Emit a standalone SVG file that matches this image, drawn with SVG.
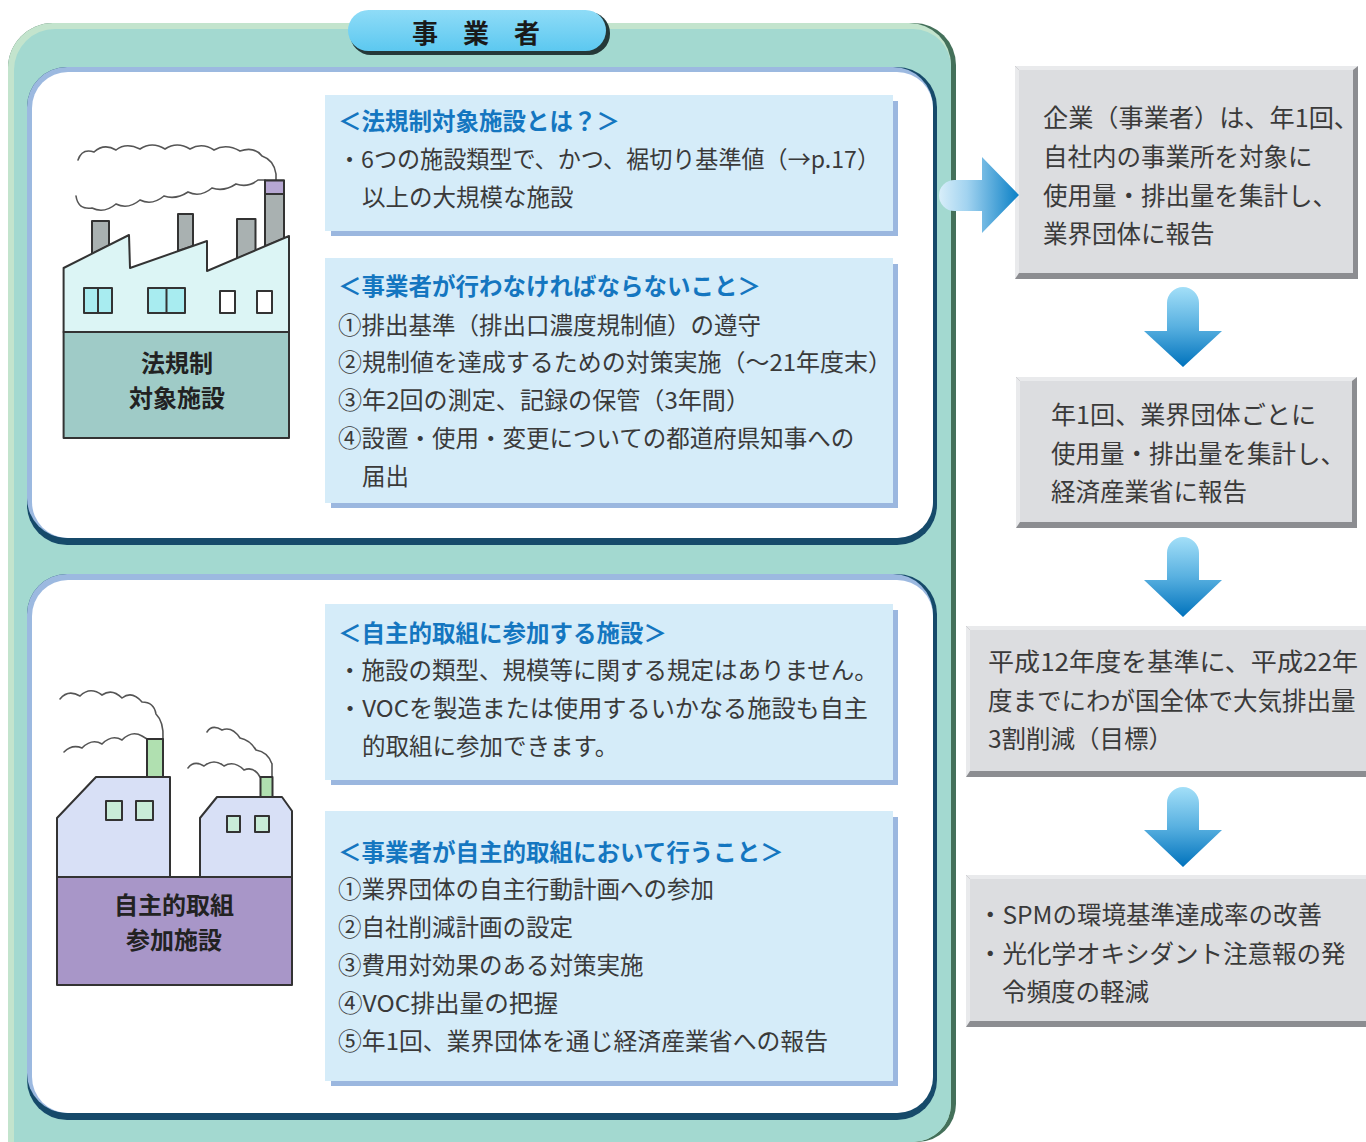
<svg xmlns="http://www.w3.org/2000/svg" width="1366" height="1142" viewBox="0 0 1366 1142">
<defs>
<linearGradient id="pillG" x1="0" y1="0" x2="0" y2="1"><stop offset="0" stop-color="#8fdcf7"/><stop offset="1" stop-color="#5cc8f0"/></linearGradient>
<linearGradient id="rArrow" x1="0" y1="0" x2="1" y2="0"><stop offset="0" stop-color="#d8eef9"/><stop offset="0.35" stop-color="#a2d3f0"/><stop offset="1" stop-color="#0a80c6"/></linearGradient>
<linearGradient id="dArrow" x1="0" y1="0" x2="0" y2="1"><stop offset="0" stop-color="#a3dff8"/><stop offset="0.5" stop-color="#58b0e0"/><stop offset="1" stop-color="#0072bc"/></linearGradient>
<style>
.t{font-family:"Noto Sans CJK JP","Noto Sans CJK SC",sans-serif;font-size:23.5px;fill:#3a3a3a}
.h{font-family:"Noto Sans CJK JP","Noto Sans CJK SC",sans-serif;font-size:23.5px;fill:#1476c0;font-weight:bold}
.r{font-family:"Noto Sans CJK JP","Noto Sans CJK SC",sans-serif;font-size:24.5px;fill:#3a3a3a}
.lab{font-family:"Noto Sans CJK JP","Noto Sans CJK SC",sans-serif;font-size:24px;fill:#222;font-weight:bold;text-anchor:middle}
.ttl{font-family:"Noto Sans CJK JP","Noto Sans CJK SC",sans-serif;font-size:26px;fill:#1a1a1a;font-weight:bold;text-anchor:middle}
.bx{fill:#d5ecf9}
.sh{fill:#9bb7df}
.dk{fill:#8c8d91}
.lt{fill:#e9eaec}
.gf{fill:#dcdde0}
.ol{stroke:#333;stroke-width:2;stroke-linejoin:round}
.smk{fill:none;stroke:#555;stroke-width:1.6;stroke-linecap:round}
.arr{fill:url(#dArrow)}
</style>
</defs>

<g id="container">
<path d="M8,1142 V68 A45,45 0 0 1 53,23 H914 A42,42 0 0 1 956,65 V1104 A38,38 0 0 1 918,1142 Z" fill="#44705a"/>
<path d="M8,1142 V68 A45,45 0 0 1 53,23 H909 A42,42 0 0 1 951,65 V1104 A38,38 0 0 1 913,1142 Z" fill="#c3e4cd"/>
<path d="M14,1142 V70 A41,41 0 0 1 55,29 H913 A38,38 0 0 1 951,67 V1104 A38,38 0 0 1 913,1142 Z" fill="#a3d9d0"/>
</g>

<g id="title">
<rect x="350" y="12" width="260" height="43" rx="21" fill="#243838"/>
<rect x="348" y="10" width="258" height="41" rx="20.5" fill="url(#pillG)"/>
<text class="ttl" x="425 476 527" y="43">事業者</text>
</g>

<g id="panel1">
<rect x="27" y="67" width="910" height="478" rx="40" fill="#164a6a"/>
<rect x="27" y="67" width="906" height="471" rx="40" fill="#9cb9e0"/>
<rect x="32" y="72" width="901" height="466" rx="36" fill="#fff"/>
</g>
<g id="panel2">
<rect x="27" y="574" width="910" height="546" rx="40" fill="#164a6a"/>
<rect x="27" y="574" width="906" height="539" rx="40" fill="#9cb9e0"/>
<rect x="32" y="580" width="901" height="533" rx="36" fill="#fff"/>
</g>

<g id="factory1">
<path class="smk" d="M78,160 Q82,148 94,152 Q104,143 116,150 Q126,142 140,149 Q152,141 165,149 Q177,141 190,149 Q202,142 214,150 Q226,143 240,151 Q254,146 262,156 Q274,160 276,174 L276,181"/>
<path class="smk" d="M76,196 Q78,210 92,208 Q104,214 116,204 Q128,210 140,200 Q152,206 164,196 Q176,200 188,192 Q200,198 212,188 Q224,192 236,184 Q248,188 258,180 L265,180"/>
<polygon class="ol" points="92,221 109,221 109,245.5 92,254" fill="#a9b1b1"/>
<polygon class="ol" points="178,214 193,214 193,246 178,251" fill="#a9b1b1"/>
<polygon class="ol" points="237,219 255.5,219 255.5,251 237,258.6" fill="#a9b1b1"/>
<polygon class="ol" points="265,180.5 284,180.5 284,238.3 265,246.3" fill="#a9b1b1"/>
<rect x="265" y="180.5" width="19" height="13.5" fill="#b6a7d2" class="ol"/>
<polygon class="ol" points="63.6,332 63.6,268 129,235 130,268 207,241 207,271 289,236 289,332" fill="#dcf5f5"/>
<rect class="ol" x="63.6" y="332" width="225.4" height="106" fill="#9fcbc7"/>
<rect class="ol" x="84" y="288" width="28" height="25" fill="#a8ecf0"/>
<line class="ol" x1="98" y1="288" x2="98" y2="313"/>
<rect class="ol" x="148" y="288" width="37" height="25" fill="#a8ecf0"/>
<line class="ol" x1="166.5" y1="288" x2="166.5" y2="313"/>
<rect class="ol" x="220" y="291" width="15" height="22" fill="#fff"/>
<rect class="ol" x="257" y="291" width="15" height="22" fill="#fff"/>
<text class="lab"><tspan x="177" y="372">法規制</tspan><tspan x="177" y="407">対象施設</tspan></text>
</g>

<g id="factory2">
<path class="smk" d="M60,699 Q68,689 80,696 Q90,686 102,695 Q112,688 122,698 Q132,690 142,702 Q154,702 156,714 Q164,722 163,739"/>
<path class="smk" d="M64,752 Q72,744 82,748 Q92,738 102,744 Q112,734 122,740 Q132,730 142,736 L147,739"/>
<path class="smk" d="M207,732 Q212,724 222,730 Q232,726 240,738 Q250,740 256,750 Q268,752 272,764 L272,777"/>
<path class="smk" d="M188,768 Q194,760 204,766 Q214,758 224,766 Q234,760 244,770 Q254,766 260,777"/>
<rect class="ol" x="147" y="739" width="16" height="38" fill="#b0e0b0"/>
<rect class="ol" x="260.5" y="777" width="12" height="20" fill="#b0e0b0"/>
<polygon class="ol" points="57,877 57,818 96,777 170,777 170,877" fill="#d8e0f6"/>
<polygon class="ol" points="200,877 200,818 217,797 282,797 292,811 292,877" fill="#d8e0f6"/>
<rect class="ol" x="57" y="877" width="235" height="108" fill="#a896c8"/>
<rect class="ol" x="106" y="801" width="16" height="19" fill="#c8ecd8"/>
<rect class="ol" x="136" y="801" width="17" height="19" fill="#c8ecd8"/>
<rect class="ol" x="227" y="816" width="13" height="16" fill="#c8ecd8"/>
<rect class="ol" x="255" y="816" width="14" height="16" fill="#c8ecd8"/>
<text class="lab"><tspan x="174" y="914">自主的取組</tspan><tspan x="174" y="949">参加施設</tspan></text>
</g>

<g id="box-legal-def">
<rect class="sh" x="331" y="101" width="567" height="135"/>
<rect class="bx" x="325" y="95" width="568" height="136"/>
<text class="h" x="338" y="130">＜法規制対象施設とは？＞</text>
<text class="t" x="338" y="168" textLength="542" lengthAdjust="spacingAndGlyphs">・6つの施設類型で、かつ、裾切り基準値（→p.17）</text>
<text class="t" x="362" y="206">以上の大規模な施設</text>
</g>

<g id="box-legal-duty">
<rect class="sh" x="331" y="264" width="567" height="244"/>
<rect class="bx" x="325" y="258" width="568" height="245"/>
<text class="h" x="338" y="295">＜事業者が行わなければならないこと＞</text>
<text class="t" x="338" y="334">①排出基準（排出口濃度規制値）の遵守</text>
<text class="t" x="338" y="371" textLength="554" lengthAdjust="spacingAndGlyphs">②規制値を達成するための対策実施（〜21年度末）</text>
<text class="t" x="338" y="409" textLength="412" lengthAdjust="spacingAndGlyphs">③年2回の測定、記録の保管（3年間）</text>
<text class="t" x="338" y="447">④設置・使用・変更についての都道府県知事への</text>
<text class="t" x="362" y="485">届出</text>
</g>

<g id="box-vol-def">
<rect class="sh" x="331" y="610" width="567" height="175"/>
<rect class="bx" x="325" y="604" width="568" height="176"/>
<text class="h" x="338" y="642">＜自主的取組に参加する施設＞</text>
<text class="t" x="338" y="679">・施設の類型、規模等に関する規定はありません。</text>
<text class="t" x="338" y="717" textLength="530" lengthAdjust="spacingAndGlyphs">・VOCを製造または使用するいかなる施設も自主</text>
<text class="t" x="362" y="755">的取組に参加できます。</text>
</g>

<g id="box-vol-duty">
<rect class="sh" x="331" y="817" width="567" height="269"/>
<rect class="bx" x="325" y="811" width="568" height="270"/>
<text class="h" x="338" y="861">＜事業者が自主的取組において行うこと＞</text>
<text class="t" x="338" y="898">①業界団体の自主行動計画への参加</text>
<text class="t" x="338" y="936">②自社削減計画の設定</text>
<text class="t" x="338" y="974">③費用対効果のある対策実施</text>
<text class="t" x="338" y="1012" textLength="220" lengthAdjust="spacingAndGlyphs">④VOC排出量の把握</text>
<text class="t" x="338" y="1050" textLength="490" lengthAdjust="spacingAndGlyphs">⑤年1回、業界団体を通じ経済産業省への報告</text>
</g>

<g id="step1">
<rect class="dk" x="1015" y="66" width="343" height="213"/>
<polygon class="lt" points="1015,66 1358,66 1353,70 1019,70"/>
<polygon class="lt" points="1015,66 1019,70 1019,273 1015,279"/>
<rect class="gf" x="1019" y="70" width="334" height="203"/>
<text class="r" x="1043" y="127" textLength="316" lengthAdjust="spacingAndGlyphs">企業（事業者）は、年1回、</text>
<text class="r" x="1043" y="166">自社内の事業所を対象に</text>
<text class="r" x="1043" y="205">使用量・排出量を集計し、</text>
<text class="r" x="1043" y="243">業界団体に報告</text>
</g>

<g id="step2">
<rect class="dk" x="1016" y="377" width="341" height="151"/>
<polygon class="lt" points="1016,377 1357,377 1352,381 1020,381"/>
<polygon class="lt" points="1016,377 1020,381 1020,522 1016,528"/>
<rect class="gf" x="1020" y="381" width="332" height="141"/>
<text class="r" x="1051" y="424" textLength="265" lengthAdjust="spacingAndGlyphs">年1回、業界団体ごとに</text>
<text class="r" x="1051" y="463">使用量・排出量を集計し、</text>
<text class="r" x="1051" y="501">経済産業省に報告</text>
</g>

<g id="step3">
<rect class="dk" x="966" y="626" width="404" height="151"/>
<polygon class="lt" points="966,626 1370,626 1370,630 970,630"/>
<polygon class="lt" points="966,626 970,630 970,771 966,777"/>
<rect class="gf" x="970" y="630" width="400" height="141"/>
<text class="r" x="988" y="671" textLength="370" lengthAdjust="spacingAndGlyphs">平成12年度を基準に、平成22年</text>
<text class="r" x="988" y="710">度までにわが国全体で大気排出量</text>
<text class="r" x="988" y="748">3割削減（目標）</text>
</g>

<g id="step4">
<rect class="dk" x="966" y="875" width="404" height="152"/>
<polygon class="lt" points="966,875 1370,875 1370,879 970,879"/>
<polygon class="lt" points="966,875 970,879 970,1021 966,1027"/>
<rect class="gf" x="970" y="879" width="400" height="142"/>
<text class="r" x="978" y="924">・SPMの環境基準達成率の改善</text>
<text class="r" x="978" y="963">・光化学オキシダント注意報の発</text>
<text class="r" x="1002" y="1001">令頻度の軽減</text>
</g>

<g id="connectors">
<path d="M954.5,180 H982 V157 L1019,195 L982,233 V211 H954.5 A15.5,15.5 0 0 1 954.5,180 Z" fill="url(#rArrow)"/>
<path class="arr" d="M1167,303 A16,16 0 0 1 1199,303 V331 H1222 L1183,367 L1144,331 H1167 Z"/>
<path class="arr" d="M1167,553 A16,16 0 0 1 1199,553 V580 H1222 L1183,617 L1144,580 H1167 Z"/>
<path class="arr" d="M1167,803 A16,16 0 0 1 1199,803 V830 H1222 L1183,867 L1144,830 H1167 Z"/>
</g>
</svg>
